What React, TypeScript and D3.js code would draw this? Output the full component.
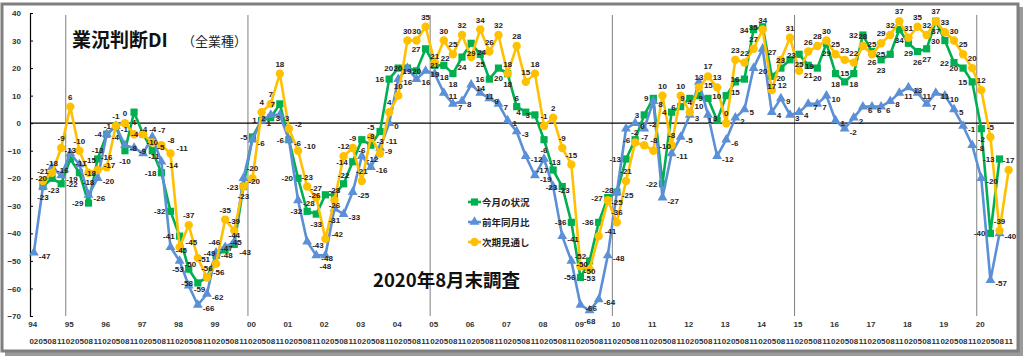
import React, { useEffect, useRef } from 'react';
import * as d3 from 'd3';

const years = ['94','95','96','97','98','99','00','01','02','03','04','05','06','07','08','09','10','11','12','13','14','15','16','17','18','19','20'];
const quarters = ['02','05','08','11'];

// 今月の状況
const genjo: (number | null)[] = [
  null, -23, -20, -22,  -13, -18, -29, -13,  -4, -1, -10, 4,  -4, -10, -18, -32,
  -41, -53, -58, -56,  -48, -46, -44, -23,  -5, 1, 2, 7,  -6, -20, -32, -33,
  -26, -26, -22, -14,  -6, -8, -3, 16,  20, 20, 19, 27,  21, 21, 18, 24,
  29, 25, 16, 20,  18, 6, 4, 3,  -6, -17, -23, -36,  -56, -50, -36, -27,
  -25, -13, -6, 3,  9, -22, 4, 6,  9, 10, 9, 1,  10, 15, 16, 34,
  35, 17, 20, 23,  25, 21, 20, 29,  18, 15, 18, 32,  26, 23, 25, 34,
  29, 26, 27, 37,  30, 22, 20, 15,  -2, -40, -13, null,
];
// 前年同月比
const zennen: (number | null)[] = [
  -47, -23, -16, -19,  -11, -15, -26, -20,  -4, -1, -8, -9,  -11, -5, -14, -45,
  -50, -59, -66, -62,  -47, -45, -43, -20,  -6, 1, 3, 3,  -6, -28, -43, -48,
  -48, -31, -33, -25,  -12, -16, -9, 0,  16, 20, 16, 19,  18, 11, 7, 8,
  14, 11, 9, 7,  1, -3, -12, -19,  -13, -23, -41, -50,  -66, -68, -64, -48,
  -25, -2, 0, -2,  8, -27, -11, -5,  3, 15, 3, -12,  -6, 2, 5, 20,
  27, 4, 9, 3,  4, 7, 7, 10,  1, -2, 2, 6,  6, 6, 8, 11,
  13, 11, 7, 11,  10, 5, -1, -8,  -20, -57, -40, null,
];
// 次期見通し
const mitoshi: (number | null)[] = [
  null, -21, -18, -9,  6, -10, -18, -17,  -16, -1, 0, -4,  -4, -7, -8, -11,
  -45, -37, -49, -56,  -51, -35, -39, -23,  -20, 4, 7, 18,  -2, -10, -23, -27,
  -42, -28, -12, -9,  -21, -5, -11, 4,  10, 30, 30, 35,  22, 30, 25, 32,
  24, 34, 26, 32,  18, 28, 15, 18,  -1, 2, -9, -15,  -52, -53, -41, -28,
  -36, -21, -7, -8,  -10, 10, -8, 10,  4, 13, 17, 13,  0, 23, 22, 27,
  34, 12, 23, 31,  19, 26, 28, 30,  25, 23, 22, 28,  25, 29, 32, 37,
  31, 35, 32, 37,  33, 30, 25, 20,  12, -5, -39, -17,
];

const seriesNames = ['今月の状況', '前年同月比', '次期見通し'];
const yTicks = [40, 30, 20, 10, 0, -10, -20, -30, -40, -50, -60, -70];

const GREEN = '#00B050';
const BLUE = '#5B8FD6';
const ORANGE = '#FFC000';
const LABEL_FONT = '"Liberation Sans", Arial, sans-serif';
const JP_FONT = '"Noto Sans CJK JP", "Noto Sans", sans-serif';

type Cand = { dx: number; dy: number; anchor: string };

// label placement candidates for each series, in order of preference
const candidates: Record<string, Cand[]> = {
  square: [
    { dx: -5, dy: 3, anchor: 'end' }, { dx: 0, dy: 13, anchor: 'middle' },
    { dx: 0, dy: -6, anchor: 'middle' }, { dx: 5, dy: 3, anchor: 'start' },
    { dx: -5, dy: 11, anchor: 'end' }, { dx: -5, dy: -5, anchor: 'end' },
  ],
  triangle: [
    { dx: 5, dy: 6, anchor: 'start' }, { dx: 0, dy: 14, anchor: 'middle' },
    { dx: -5, dy: 6, anchor: 'end' }, { dx: 5, dy: -2, anchor: 'start' },
    { dx: 5, dy: 13, anchor: 'start' }, { dx: -5, dy: 13, anchor: 'end' },
  ],
  circle: [
    { dx: 0, dy: -7, anchor: 'middle' }, { dx: 6, dy: -2, anchor: 'start' },
    { dx: -6, dy: -2, anchor: 'end' }, { dx: 0, dy: 12, anchor: 'middle' },
    { dx: 6, dy: -9, anchor: 'start' }, { dx: -6, dy: -9, anchor: 'end' },
  ],
};

export default function App() {
  const ref = useRef<SVGSVGElement>(null);

  useEffect(() => {
    const svg = d3.select(ref.current);
    svg.selectAll('*').remove();

    const n = years.length * quarters.length;
    const x = d3.scaleBand<number>().domain(d3.range(n)).range([29.3, 1013.2]);
    const cx = (i: number) => (x(i) as number) + x.bandwidth() / 2;
    const y = d3.scaleLinear().domain([-70, 40]).range([316, 13]);

    // frame with shadow
    svg.append('rect').attr('x', 5).attr('y', 7).attr('width', 1018).attr('height', 349).attr('fill', '#9a9a9a');
    svg.append('rect').attr('x', 2).attr('y', 4).attr('width', 1016).attr('height', 347)
      .attr('fill', '#fff').attr('stroke', '#7f7f7f').attr('stroke-width', 3);

    // year separators
    d3.range(4, n, 20).forEach(i => {
      svg.append('line')
        .attr('x1', x(i) as number).attr('x2', x(i) as number)
        .attr('y1', 15).attr('y2', 316)
        .attr('stroke', '#808080').attr('stroke-width', 1);
    });

    // zero line
    svg.append('line')
      .attr('x1', 30).attr('x2', 1014)
      .attr('y1', y(0)).attr('y2', y(0))
      .attr('stroke', '#000').attr('stroke-width', 1.2);

    // y axis
    const yAxis = svg.append('g')
      .attr('transform', 'translate(30,0)')
      .call(d3.axisLeft(y).tickValues(yTicks).tickSize(-3).tickSizeOuter(0).tickPadding(9));
    yAxis.select('.domain').attr('stroke', '#000').attr('stroke-width', 1.2);
    yAxis.selectAll('line').attr('stroke', '#000');
    yAxis.selectAll('text')
      .attr('font-family', LABEL_FONT).attr('font-size', 8).attr('font-weight', 'bold').attr('fill', '#333');

    // x labels
    years.forEach((yr, k) => {
      svg.append('text')
        .attr('x', (x(k * 4) as number) + 3.5).attr('y', 327)
        .attr('text-anchor', 'middle')
        .attr('font-family', LABEL_FONT).attr('font-size', 8).attr('font-weight', 'bold').attr('fill', '#333')
        .text(yr);
    });
    d3.range(n).forEach(i => {
      svg.append('text')
        .attr('x', cx(i)).attr('y', 344)
        .attr('text-anchor', 'middle')
        .attr('font-family', LABEL_FONT).attr('font-size', 8).attr('font-weight', 'bold').attr('fill', '#333')
        .text(quarters[i % 4]);
    });

    // titles
    svg.append('text').attr('x', 72).attr('y', 47)
      .attr('font-family', JP_FONT).attr('font-size', 19).attr('font-weight', 'bold').attr('fill', '#111')
      .text('業況判断DI');
    svg.append('text').attr('x', 182).attr('y', 46)
      .attr('font-family', JP_FONT).attr('font-size', 13).attr('fill', '#222')
      .text('（全業種）');
    svg.append('text').attr('x', 373).attr('y', 287)
      .attr('font-family', JP_FONT).attr('font-size', 18.5).attr('font-weight', 'bold').attr('fill', '#111')
      .text('2020年8月末調査');

    const series = [
      { data: genjo, color: GREEN, shape: 'square' },
      { data: zennen, color: BLUE, shape: 'triangle' },
      { data: mitoshi, color: ORANGE, shape: 'circle' },
    ];

    const drawMarker = (g: any, shape: string, color: string, px: number, py: number) => {
      if (shape === 'square') {
        g.append('rect').attr('x', px - 3.6).attr('y', py - 3.6).attr('width', 7.2).attr('height', 7.2).attr('fill', color);
      } else if (shape === 'triangle') {
        g.append('path').attr('d', d3.symbol().type(d3.symbolTriangle).size(42)())
          .attr('transform', `translate(${px},${py})`).attr('fill', color);
      } else {
        g.append('circle').attr('cx', px).attr('cy', py).attr('r', 4.2).attr('fill', color);
      }
    };

    const line = d3.line<number | null>()
      .defined(d => d != null)
      .x((d, i) => cx(i))
      .y(d => y(d as number));

    series.forEach(s => {
      const g = svg.append('g');
      g.append('path').datum(s.data).attr('d', line)
        .attr('fill', 'none').attr('stroke', s.color).attr('stroke-width', 2.6).attr('stroke-linejoin', 'round');
      s.data.forEach((v, i) => {
        if (v == null) return;
        drawMarker(g, s.shape, s.color, cx(i), y(v));
      });
    });

    // data labels, greedy placement to keep them from piling up
    const labels = svg.append('g')
      .attr('font-family', LABEL_FONT).attr('font-size', 8).attr('font-weight', 'bold').attr('fill', '#2a2020');
    const placed: number[][] = [
      [68, 28, 250, 50], [370, 268, 522, 292], [464, 194, 532, 248],
    ];
    const boxOf = (px: number, py: number, c: Cand, w: number) => {
      const bx = px + c.dx, by = py + c.dy;
      const x0 = c.anchor === 'start' ? bx : c.anchor === 'end' ? bx - w : bx - w / 2;
      return [x0, by - 6.5, x0 + w, by + 0.5];
    };
    const overlap = (a: number[], b: number[]) => {
      const ox = Math.min(a[2], b[2]) - Math.max(a[0], b[0]);
      const oy = Math.min(a[3], b[3]) - Math.max(a[1], b[1]);
      return ox > 0 && oy > 0 ? ox * oy : 0;
    };
    d3.range(n).forEach(i => {
      series.forEach(s => {
        const v = s.data[i];
        if (v == null) return;
        const txt = String(v);
        const w = txt.length * 4.5;
        const px = cx(i), py = y(v);
        let best = candidates[s.shape][0];
        let bestScore = Infinity;
        for (const c of candidates[s.shape]) {
          const b = boxOf(px, py, c, w);
          let score = 0;
          for (const p of placed) score += overlap(b, p);
          if (b[0] < 31) score += 100;
          if (score < bestScore) { bestScore = score; best = c; }
          if (score === 0) break;
        }
        placed.push(boxOf(px, py, best, w));
        labels.append('text')
          .attr('x', px + best.dx).attr('y', py + best.dy)
          .attr('text-anchor', best.anchor)
          .text(txt);
      });
    });

    // legend
    const legend = svg.append('g');
    series.forEach((s, k) => {
      const ly = 202 + k * 20;
      legend.append('line').attr('x1', 468).attr('x2', 481).attr('y1', ly).attr('y2', ly)
        .attr('stroke', s.color).attr('stroke-width', 2.6);
      drawMarker(legend, s.shape, s.color, 474.5, ly);
      legend.append('text').attr('x', 482).attr('y', ly + 3.5)
        .attr('font-family', JP_FONT).attr('font-size', 9.5).attr('font-weight', 'bold').attr('fill', '#222')
        .text(seriesNames[k]);
    });
  }, []);

  return (
    <div style={{ position: 'absolute', left: 0, top: 0 }}>
      <svg ref={ref} width={1026} height={362} style={{ display: 'block', background: '#fff' }} />
    </div>
  );
}
